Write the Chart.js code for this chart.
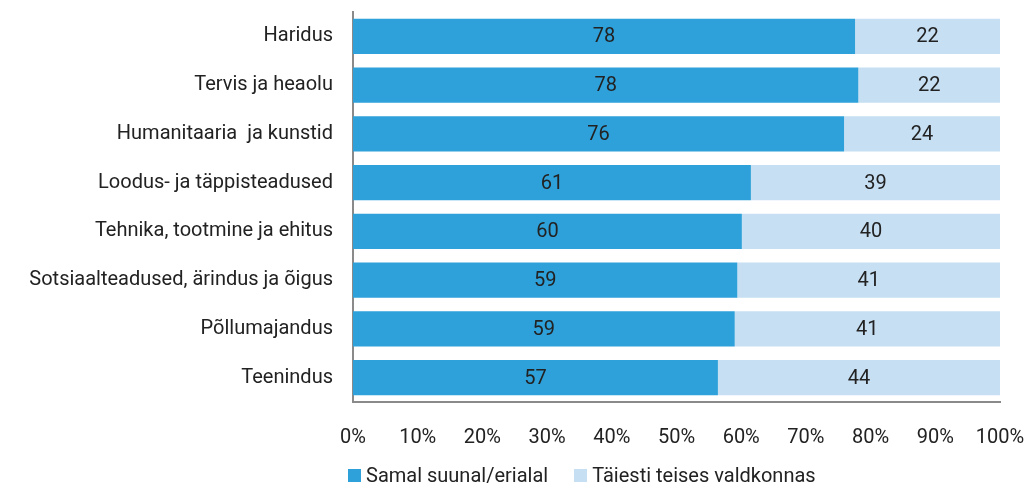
<!DOCTYPE html>
<html>
<head>
<meta charset="utf-8">
<script src="https://cdn.jsdelivr.net/npm/chart.js@4"></script>
<style>
    html, body { margin: 0; padding: 0; background: #fff; }
    #wrap { position: relative; width: 1032px; height: 484px; }
    #legend {
        position: absolute; left: 348px; top: 463px;
        display: flex; align-items: center;
        font-family: Roboto, sans-serif; font-size: 20px; color: #222;
    }
    .lg-item { display: flex; align-items: center; margin-right: 26px; }
    .lg-box { width: 13px; height: 13px; margin-right: 5px; }
</style>
</head>
<body>
<div id="wrap">
    <canvas id="chart" width="1032" height="484"></canvas>
    <div id="legend"></div>
</div>
<script>
// Valdkonnad (ülevalt alla)
const categories = [
    'Haridus',
    'Tervis ja heaolu',
    'Humanitaaria  ja kunstid',
    'Loodus- ja täppisteadused',
    'Tehnika, tootmine ja ehitus',
    'Sotsiaalteadused, ärindus ja õigus',
    'Põllumajandus',
    'Teenindus'
];

// Osakaalud (%) - loetud joonise järgi
const sameField = [77.6, 78.1, 75.9, 61.5, 60.1, 59.4, 59.0, 56.4];
const otherField = [22.4, 21.9, 24.1, 38.5, 39.9, 40.6, 41.0, 43.6];

// Ümardatud sildid tulpadel
const sameLabels = [78, 78, 76, 61, 60, 59, 59, 57];
const otherLabels = [22, 22, 24, 39, 40, 41, 41, 44];

const seriesNames = ['Samal suunal/erialal', 'Täiesti teises valdkonnas'];
const seriesColors = ['#2ea0da', '#c6dff2'];

const FONT = 'Roboto, sans-serif';
const FSIZE = 20;
const TEXT = '#222222';

// tulbasiltide joonistamine
const barLabels = {
    id: 'barLabels',
    afterDatasetsDraw(chart) {
        const ctx = chart.ctx;
        const allLabels = [sameLabels, otherLabels];
        ctx.save();
        ctx.font = FSIZE + 'px ' + FONT;
        ctx.fillStyle = TEXT;
        ctx.textAlign = 'center';
        ctx.textBaseline = 'middle';
        chart.data.datasets.forEach((ds, di) => {
            const meta = chart.getDatasetMeta(di);
            meta.data.forEach((bar, i) => {
                const cx = (bar.x + bar.base) / 2;
                ctx.fillText(String(allLabels[di][i]), cx, bar.y + 1);
            });
        });
        ctx.restore();
    }
};

new Chart(document.getElementById('chart').getContext('2d'), {
    type: 'bar',
    data: {
        labels: categories,
        datasets: [
            { label: seriesNames[0], data: sameField, backgroundColor: seriesColors[0],
              barPercentage: 0.72, categoryPercentage: 1 },
            { label: seriesNames[1], data: otherField, backgroundColor: seriesColors[1],
              barPercentage: 0.72, categoryPercentage: 1 }
        ]
    },
    options: {
        indexAxis: 'y',
        responsive: false,
        animation: false,
        layout: { padding: { top: 12, right: 32, bottom: 0, left: 0 } },
        plugins: {
            legend: { display: false },
            tooltip: { enabled: false }
        },
        scales: {
            x: {
                stacked: true,
                min: 0,
                max: 100,
                grid: { display: false, drawTicks: false },
                border: { display: true, color: '#8a8a8a', width: 2 },
                afterFit: s => {
                    s.height = 82;
                    s.paddingLeft = 0;
                    s.paddingRight = 0;
                },
                ticks: {
                    stepSize: 10,
                    padding: 24,
                    color: TEXT,
                    font: { family: FONT, size: FSIZE },
                    maxRotation: 0,
                    callback: v => v + '%'
                }
            },
            y: {
                stacked: true,
                grid: { display: false, drawTicks: false },
                border: { display: true, color: '#8a8a8a', width: 2 },
                afterFit: s => {
                    s.width = 353;
                    s.paddingTop = 0;
                    s.paddingBottom = 0;
                },
                ticks: {
                    padding: 20,
                    color: TEXT,
                    font: { family: FONT, size: FSIZE }
                }
            }
        }
    },
    plugins: [barLabels]
});

// legend
const legend = document.getElementById('legend');
seriesNames.forEach((name, i) => {
    const item = document.createElement('div');
    item.className = 'lg-item';
    item.innerHTML = `<span class="lg-box" style="background:${seriesColors[i]}"></span><span>${name}</span>`;
    legend.appendChild(item);
});
</script>
</body>
</html>
